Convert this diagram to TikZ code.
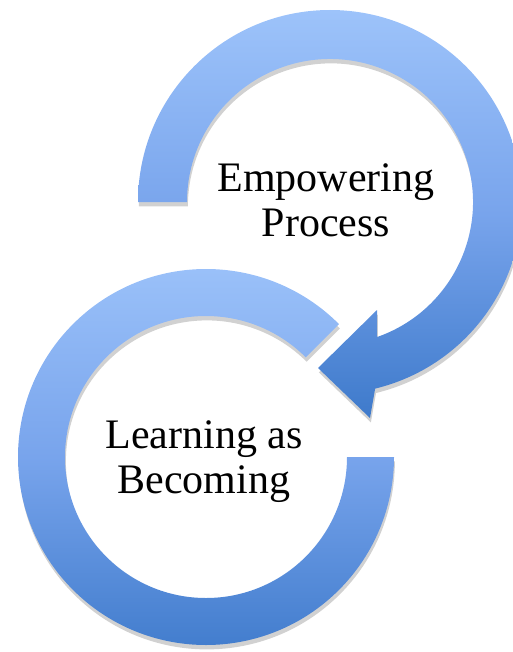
\documentclass[tikz,border=0pt]{standalone}
\usepackage{fontspec}
\setmainfont{Liberation Serif}
\usetikzlibrary{calc,shadows}
\definecolor{kruhsvetla}{RGB}{157,195,250}
\definecolor{kruhstred}{RGB}{120,164,236}
\definecolor{kruhtmava}{RGB}{62,122,203}
\tikzset{
  kruh/.style={draw=none,top color=kruhsvetla,bottom color=kruhtmava,middle color=kruhstred,
    drop shadow={shadow xshift=0.5pt,shadow yshift=-2.5pt,opacity=.18,fill=black}},
  popis/.style={align=center,inner sep=0pt,font=\fontsize{23.9}{25.6}\selectfont},
}

\begin{document}
\begin{tikzpicture}[x=0.02cm,y=0.02cm]
  \useasboundingbox (0,0) rectangle (513,-652);
  % horni kruh se sipkou
  \coordinate (S1) at (330,-202);
  \path[kruh] ($(S1)+(180:192)$) arc[start angle=180,end angle=-76.4,radius=192]
    -- (370,-418) -- (318,-368) -- (377,-310)
    -- ($(S1)+(-70.8:143)$) arc[start angle=-70.8,end angle=180,radius=143] -- cycle;
  % dolni kruh
  \coordinate (S2) at (206,-457);
  \path[kruh] ($(S2)+(45:188)$) arc[start angle=45,end angle=360,radius=188]
    -- ($(S2)+(0:141)$) arc[start angle=360,end angle=45,radius=141] -- cycle;
  \node[popis] (empow) at (326,-200) {Empowering\\Process};
  \node[popis] (learn) at (204,-462) {Learning as\\Becoming};
\end{tikzpicture}
\end{document}
